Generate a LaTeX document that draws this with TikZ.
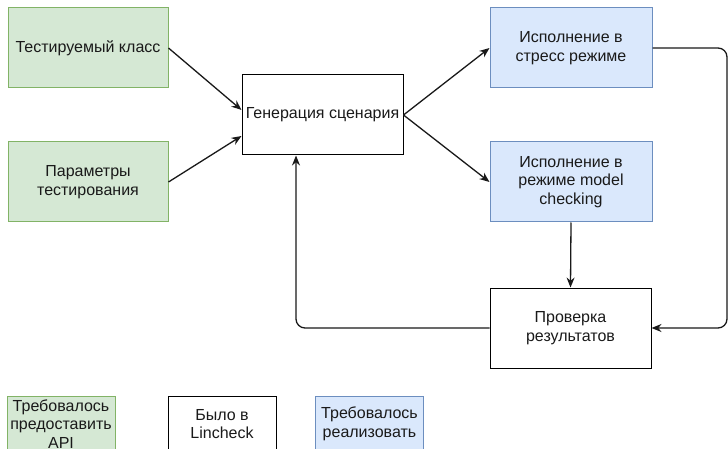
\documentclass[tikz,border=0pt]{standalone}
\usepackage{fontspec}
\setmainfont{Liberation Sans}
\usetikzlibrary{arrows.meta, positioning, calc}
\definecolor{apigreen}{HTML}{D5E8D4}
\definecolor{apigreenline}{HTML}{82B366}
\definecolor{implblue}{HTML}{DAE8FC}
\definecolor{implblueline}{HTML}{6C8EBF}
\definecolor{inktext}{HTML}{1A1A1A}

\begin{document}
\begin{tikzpicture}[
  x=1pt, y=-1pt,
  apibox/.style={
    draw=apigreenline, fill=apigreen, line width=1pt,
    minimum width=160pt, minimum height=80pt, inner sep=2pt,
    align=center, font=\fontsize{16}{18.5}\selectfont, text=inktext
  },
  oldbox/.style={
    draw=black, fill=white, line width=1pt,
    minimum width=161pt, minimum height=80pt, inner sep=2pt,
    align=center, font=\fontsize{16}{18.5}\selectfont, text=inktext
  },
  implbox/.style={
    draw=implblueline, fill=implblue, line width=1pt,
    minimum width=162pt, minimum height=80pt, inner sep=2pt,
    align=center, font=\fontsize{16}{18.5}\selectfont, text=inktext
  },
  legbox/.style={minimum width=108pt, minimum height=56pt},
  flow/.style={-{Stealth[length=10pt, width=8pt]}, line width=1.3pt, black!90},
  loopflow/.style={flow, rounded corners=9pt},
]
\useasboundingbox (0,0) rectangle (728,449);
\node[apibox]  (klass)  at (88, 48)   {Тестируемый класс};
\node[apibox]  (params) at (88, 182)  {Параметры\\тестирования};
\node[oldbox]  (gen)    at (322.5, 115) {Генерация сценария};
\node[implbox] (stress) at (571, 48)  {Исполнение в\\стресс режиме};
\node[implbox] (mc)     at (571, 182) {Исполнение в\\режиме model\\checking};
\node[oldbox]  (check)  at (570.5, 328) {Проверка\\результатов};
\coordinate (rloop) at (727, 48);
\draw[flow] (klass.east) -- ([yshift=5pt]gen.west);
\draw[flow] (params.east) -- ([yshift=-21pt]gen.west);
\foreach \t in {stress,mc} {
  \draw[flow] (gen.east) -- (\t.west);
}
\draw[flow] (mc.south) -- (check.north);
\draw[loopflow] (stress.east) -- (rloop) |- (check.east);
\draw[loopflow] (check.west) -| ([xshift=-26.5pt]gen.south);
\node[apibox, legbox]  (legapi)  at (61, 424)    {Требовалось\\предоставить\\API};
\node[oldbox, legbox]  (legold)  at (222, 424)   {Было в\\Lincheck};
\node[implbox, legbox] (legimpl) at (369.5, 424) {Требовалось\\реализовать};
\end{tikzpicture}
\end{document}
